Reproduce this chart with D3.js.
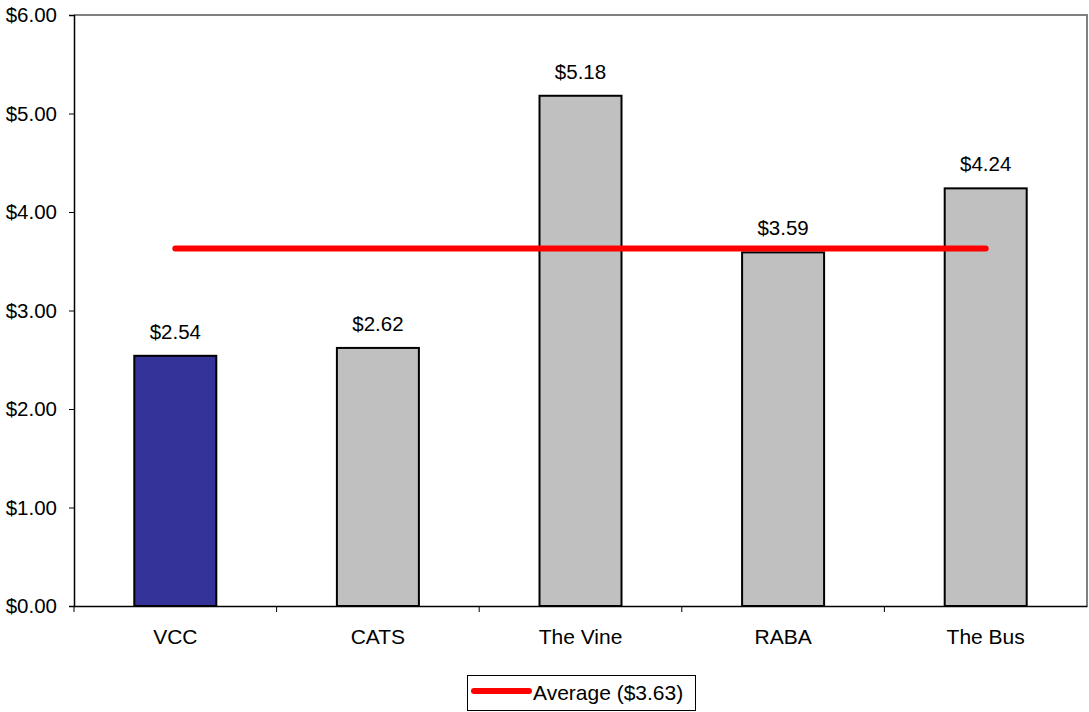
<!DOCTYPE html>
<html><head><meta charset="utf-8">
<script src="https://cdn.jsdelivr.net/npm/d3@7"></script>
<style>body{margin:0;background:#fff}svg{display:block;font-family:"Liberation Sans",Arial,sans-serif}</style>
</head><body>
<script>
const categories = ["VCC","CATS","The Vine","RABA","The Bus"];
const values = [2.54,2.62,5.18,3.59,4.24];
const barColors = ["#333399","#c0c0c0","#c0c0c0","#c0c0c0","#c0c0c0"];
const averageValue = 3.63;
const averageLabel = "Average ($3.63)";
const yTicks = [0,1,2,3,4,5,6];

const W=1089,H=712;
const m={l:74,t:15,r:2,b:106};
const FS=21;
const svg=d3.select("body").append("svg").attr("width",W).attr("height",H);
const xb=d3.scaleBand().domain(categories).range([m.l,W-m.r]);
const y=d3.scaleLinear().domain([0,6]).range([H-m.b,m.t]);

// plot frame (top & right gray)
svg.append("path").attr("d",`M${m.l},${m.t}H${W-m.r}V${H-m.b}`).attr("fill","none").attr("stroke","#808080").attr("stroke-width",2);

// bars
svg.selectAll("rect.bar").data(values).join("rect").attr("class","bar")
 .attr("x",(d,i)=>xb(categories[i])+xb.bandwidth()/2-41).attr("width",82)
 .attr("y",d=>y(d)).attr("height",d=>y(0)-y(d))
 .attr("fill",(d,i)=>barColors[i]).attr("stroke","#000").attr("stroke-width",2);

// value labels
svg.selectAll("text.val").data(values).join("text").attr("class","val")
 .attr("x",(d,i)=>xb(categories[i])+xb.bandwidth()/2).attr("y",d=>y(d)-17)
 .attr("text-anchor","middle").attr("font-size",20.5).text(d=>"$"+d.toFixed(2));

// average line
svg.append("line")
 .attr("x1",xb(categories[0])+xb.bandwidth()/2).attr("x2",xb(categories[categories.length-1])+xb.bandwidth()/2)
 .attr("y1",y(averageValue)).attr("y2",y(averageValue))
 .attr("stroke","#ff0000").attr("stroke-width",6).attr("stroke-linecap","round");

// y axis
const ya=svg.append("g").attr("transform",`translate(${m.l},0)`)
 .call(d3.axisLeft(y).tickValues(yTicks).tickSize(5).tickPadding(12).tickFormat(d=>"$"+d.toFixed(2)));
ya.select(".domain").attr("stroke","#000").attr("stroke-width",1.5);
ya.selectAll(".tick line").attr("stroke","#000");
ya.selectAll("text").attr("font-size",20.5).attr("font-family","Liberation Sans, Arial, sans-serif").attr("fill","#000");

// x axis
const xa=svg.append("g").attr("transform",`translate(0,${H-m.b})`)
 .call(d3.axisBottom(xb).tickSize(0).tickPadding(23));
xa.select(".domain").attr("stroke","#000").attr("stroke-width",1.5);
xa.selectAll("text").attr("font-size",FS).attr("font-family","Liberation Sans, Arial, sans-serif").attr("fill","#000");
// boundary ticks
const bounds=categories.map(c=>xb(c));
svg.selectAll("line.xt").data(bounds).join("line").attr("class","xt")
 .attr("x1",d=>d).attr("x2",d=>d).attr("y1",H-m.b).attr("y2",H-m.b+6).attr("stroke","#000").attr("stroke-width",1);

// legend
const lg=svg.append("g");
lg.append("rect").attr("x",467.5).attr("y",675.5).attr("width",228).attr("height",35).attr("fill","#fff").attr("stroke","#000").attr("stroke-width",1);
lg.append("line").attr("x1",474).attr("x2",529).attr("y1",691).attr("y2",691).attr("stroke","#ff0000").attr("stroke-width",6).attr("stroke-linecap","round");
lg.append("text").attr("x",533).attr("y",700).attr("font-size",FS).text(averageLabel);
</script>
</body></html>
